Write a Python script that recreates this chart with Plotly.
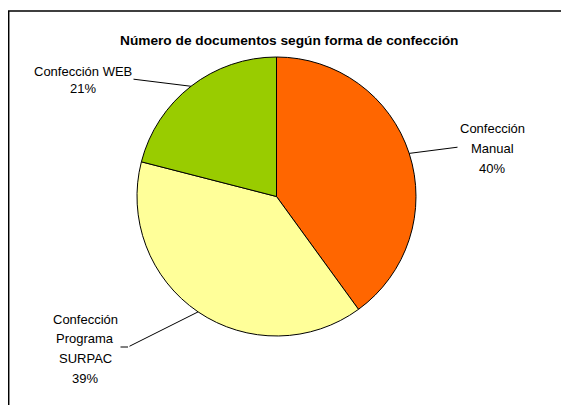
import numpy as np
import plotly.graph_objects as go

# data
categories = ["Confección Manual", "Confección Programa SURPAC", "Confección WEB"]
percent = [40, 39, 21]
label_lines = [["Confección", "Manual"], ["Confección", "Programa", "SURPAC"], ["Confección WEB"]]
colors = ["#FF6600", "#FFFF99", "#99CC00"]

W, H = 569, 405
OFF = 8  # the page body margin shifts the figure by this many pixels
# pie placement in screen pixels
cx, cy, R = 276.5, 196.5, 139.5
FONT = "Liberation Sans, Arial, sans-serif"

# first-line centre and line gap of each label block, leader line start
text_pos = [(492, 129), (85, 319), (83, 72)]
line_gap = [19.5, 19.7, 17]
line_start = [(459, 147), (128, 347), (132, 79)]


def px_to_paper(x, y):
    return (x - OFF) / W, 1 - (y - OFF) / H


x0, y1 = px_to_paper(cx - R, cy - R)
x1, y0 = px_to_paper(cx + R, cy + R)

fig = go.Figure(go.Pie(
    labels=categories,
    values=percent,
    sort=False,
    direction="clockwise",
    rotation=0,
    marker=dict(colors=colors, line=dict(color="black", width=1)),
    textinfo="none",
    hoverinfo="label+percent",
    showlegend=False,
    domain=dict(x=[x0, x1], y=[y0, y1]),
))

annotations = []
total = sum(percent)
cum = 0
for i, v in enumerate(percent):
    mid = (cum + v / 2) / total * 2 * np.pi
    cum += v
    ex = cx + R * np.sin(mid)
    ey = cy - R * np.cos(mid)
    x, y = px_to_paper(ex, ey)
    sx, sy = line_start[i]
    # leader line from label to slice edge
    annotations.append(dict(x=x, y=y, xref="paper", yref="paper", text="",
                            showarrow=True, arrowhead=0, arrowwidth=1,
                            arrowcolor="black", ax=sx - ex, ay=sy - ey))
    pct = round(v / total * 100)
    lines = label_lines[i] + [f"{pct}%"]
    for j, line in enumerate(lines):
        tx, ty = px_to_paper(text_pos[i][0], text_pos[i][1] + j * line_gap[i])
        annotations.append(dict(x=tx, y=ty, xref="paper", yref="paper",
                                text=line, showarrow=False,
                                xanchor="center", yanchor="middle",
                                font=dict(family=FONT, size=13, color="black")))

# short horizontal tail on the SURPAC leader
sx, sy = line_start[1]
x, y = px_to_paper(sx, sy)
annotations.append(dict(x=x, y=y, xref="paper", yref="paper", text="",
                        showarrow=True, arrowhead=0, arrowwidth=1,
                        arrowcolor="black", ax=-9, ay=0))

tx, ty = px_to_paper(289, 40)
annotations.append(dict(x=tx, y=ty, xref="paper", yref="paper",
                        text="<b>Número de documentos según forma de confección</b>",
                        showarrow=False, xanchor="center", yanchor="middle",
                        font=dict(family=FONT, size=13.7, color="black")))

bx, by = px_to_paper(8.7, 11)
fig.update_layout(
    width=W, height=H,
    margin=dict(l=0, r=0, t=0, b=0),
    paper_bgcolor="white",
    plot_bgcolor="white",
    annotations=annotations,
    shapes=[dict(type="rect", xref="paper", yref="paper",
                 x0=bx, y0=by, x1=1.02, y1=-0.02,
                 line=dict(color="black", width=1.5))],
)

fig.write_html("out.html")
